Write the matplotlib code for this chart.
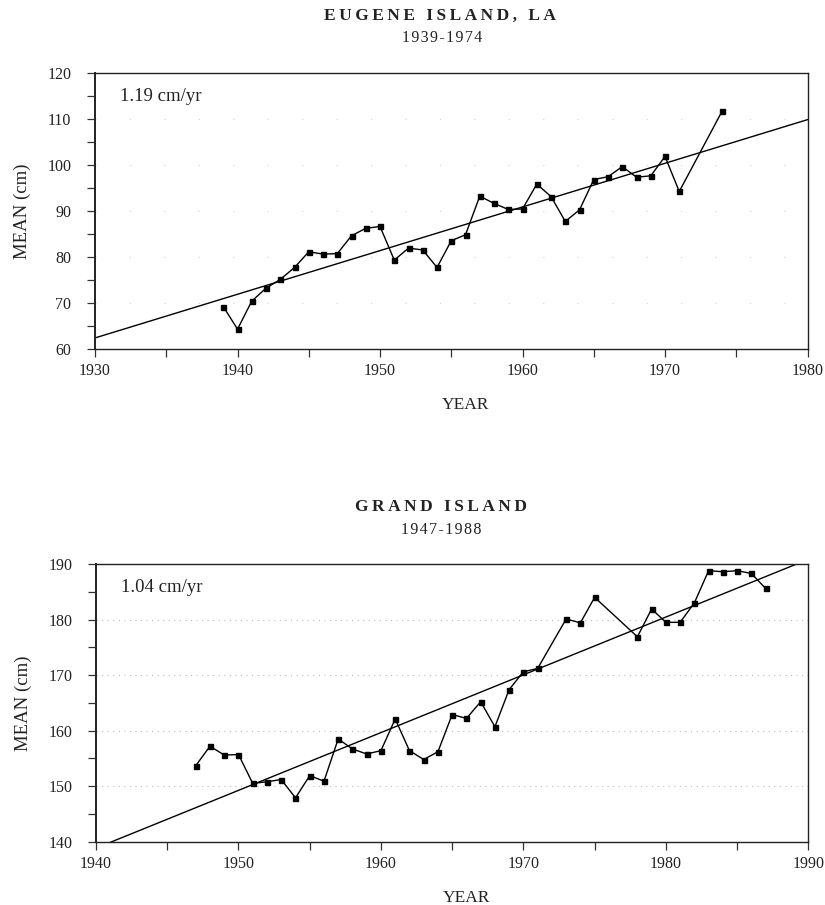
import numpy as np
import matplotlib.pyplot as plt
from matplotlib.ticker import MultipleLocator

plt.rcParams["font.family"] = ["Liberation Serif", "DejaVu Serif"]

# Eugene Island, LA -- annual mean water level (cm)
eugene_years = [1939, 1940, 1941, 1942, 1943, 1944, 1945, 1946, 1947, 1948,
                1949, 1950, 1951, 1952, 1953, 1954, 1955, 1956, 1957, 1958,
                1959, 1960, 1961, 1962, 1963, 1964, 1965, 1966, 1967, 1968,
                1969, 1970, 1971, 1974]
eugene_mean = [69.2, 64.3, 70.4, 73.2, 75.1, 77.7, 81.1, 80.6, 80.7, 84.6,
               86.2, 86.6, 79.3, 81.9, 81.5, 77.7, 83.5, 84.8, 93.2, 91.6,
               90.3, 90.4, 95.8, 93.1, 87.7, 90.2, 96.8, 97.4, 99.6, 97.3,
               97.6, 101.8, 94.2, 111.6]
eugene_trend = (0.948, 1930, 62.4)   # slope, reference year, value at reference year
eugene_rate = "1.19 cm/yr"

# Grand Island -- annual mean water level (cm)
grand_years = [1947, 1948, 1949, 1950, 1951, 1952, 1953, 1954, 1955, 1956,
               1957, 1958, 1959, 1960, 1961, 1962, 1963, 1964, 1965, 1966,
               1967, 1968, 1969, 1970, 1971, 1973, 1974, 1975, 1978, 1979,
               1980, 1981, 1982, 1983, 1984, 1985, 1986, 1987]
grand_mean = [153.7, 157.2, 155.6, 155.7, 150.5, 150.8, 151.2, 147.9, 151.9, 150.9,
              158.5, 156.7, 155.8, 156.4, 162.1, 156.4, 154.8, 156.2, 162.9, 162.2,
              165.2, 160.7, 167.4, 170.6, 171.2, 180.1, 179.4, 184.0, 176.9, 181.9,
              179.5, 179.5, 183.0, 188.8, 188.6, 188.8, 188.3, 185.6]
grand_trend = (1.04, 1940, 138.85)
grand_rate = "1.04 cm/yr"

TXT = "#222222"


def spaced(s, gap="\u2009"):
    # widen the lettering a little, print style
    return gap.join(s)


fig = plt.figure(figsize=(8.25, 9.05), dpi=100)
ax_top = fig.add_axes([0.1152, 0.6144, 0.8636, 0.3053])
ax_bot = fig.add_axes([0.1164, 0.0699, 0.8634, 0.3069])


def draw_panel(ax, years, mean, trend, rate, xlim, ylim, grid_ls, grid_c):
    ax.set_xlim(*xlim)
    ax.set_ylim(*ylim)
    # faint dotted reference lines at the labelled levels
    for lvl in range(ylim[0] + 10, ylim[1], 10):
        ax.axhline(lvl, color=grid_c, lw=0.8, ls=grid_ls, zorder=0)

    slope, x0, y0 = trend
    xt = np.array(xlim, dtype=float)
    ax.plot(xt, y0 + slope * (xt - x0), color="black", lw=1.0, zorder=2)
    ax.plot(years, mean, color="black", lw=1.0, marker="s", markersize=3.6,
            markerfacecolor="black", zorder=3)

    ax.xaxis.set_major_locator(MultipleLocator(10))
    ax.xaxis.set_minor_locator(MultipleLocator(5))
    ax.yaxis.set_major_locator(MultipleLocator(10))
    ax.yaxis.set_minor_locator(MultipleLocator(5))
    ax.tick_params(which="both", direction="out", length=6, width=0.9,
                   color="#333333")
    ax.tick_params(axis="x", labelsize=11.5, labelcolor=TXT, pad=4)
    ax.tick_params(axis="y", labelsize=11.5, labelcolor=TXT, pad=11)
    for sp in ax.spines.values():
        sp.set_linewidth(1.0)
        sp.set_color("#222222")
    ax.spines["left"].set_linewidth(1.4)

    ax.set_xlabel("YEAR", fontsize=12.5, color=TXT, labelpad=13, x=0.52)
    ax.set_ylabel("MEAN (cm)", fontsize=13.5, color=TXT, labelpad=12)
    ax.text(0.035, 0.915, rate, transform=ax.transAxes, fontsize=13.5,
            color=TXT, ha="left", va="center")


draw_panel(ax_top, eugene_years, eugene_mean, eugene_trend, eugene_rate,
           (1930, 1980), (60, 120), (0, (1, 30)), "#d4d4d4")
draw_panel(ax_bot, grand_years, grand_mean, grand_trend, grand_rate,
           (1940, 1990), (140, 190), (0, (1, 4)), "#bdbdbd")

fig.text(0.533, 1 - 16 / 905, spaced("EUGENE ISLAND, LA"), ha="center",
         va="center", fontsize=12.5, fontweight="bold", color=TXT)
fig.text(0.536, 1 - 38 / 905, spaced("1939-1974", "\u200a"), ha="center",
         va="center", fontsize=11.5, color=TXT)
fig.text(0.535, 1 - 507 / 905, spaced("GRAND ISLAND"), ha="center",
         va="center", fontsize=12.5, fontweight="bold", color=TXT)
fig.text(0.535, 1 - 530 / 905, spaced("1947-1988", "\u200a"), ha="center",
         va="center", fontsize=11.5, color=TXT)

fig.savefig("out.png", dpi=100, facecolor="white")
